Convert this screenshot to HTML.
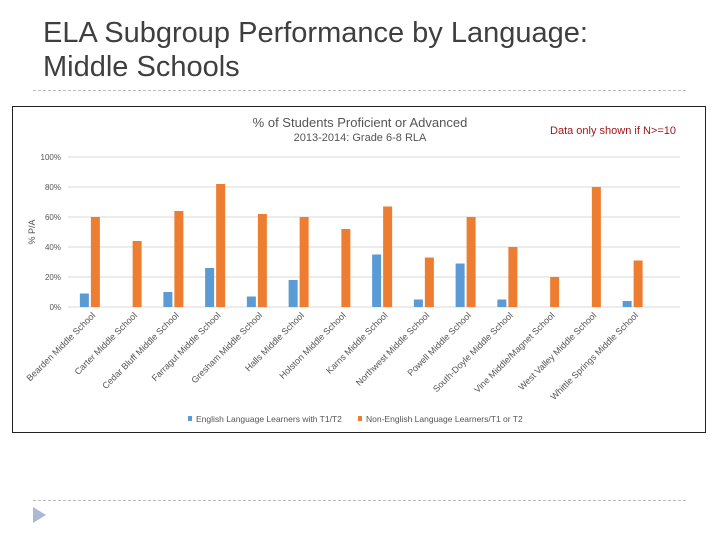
<!DOCTYPE html>
<html><head><meta charset="utf-8"><style>
body{margin:0;background:#fff;}
#root{position:relative;width:720px;height:540px;overflow:hidden;font-family:"Liberation Sans",sans-serif;}
.title{position:absolute;left:43px;top:16px;font-size:29px;line-height:34px;color:#3f3f3f;}
.dot{position:absolute;left:33px;width:653px;border-top:1px dashed #bbb;}
.box{position:absolute;left:12px;top:106px;width:694px;height:327px;border:1px solid #222;box-sizing:border-box;}
</style></head><body>
<div id="root">
<div class="title">ELA Subgroup Performance by Language:<br>Middle Schools</div>
<div class="dot" style="top:90px"></div>
<div class="dot" style="top:500px"></div>
<svg style="position:absolute;left:33px;top:507px" width="14" height="16"><polygon points="0,0 13,8 0,16" fill="#a9b9d6"/></svg>
<div class="box"></div>
<svg id="chart" style="position:absolute;left:0;top:0" width="720" height="540"></svg>
</div>
<script>
const categories=["Bearden Middle School","Carter Middle School","Cedar Bluff Middle School","Farragut Middle School","Gresham Middle School","Halls Middle School","Holston Middle School","Karns Middle School","Northwest Middle School","Powell Middle School","South-Doyle Middle School","Vine Middle/Magnet School","West Valley Middle School","Whittle Springs Middle School"];
const ellValues=[9,null,10,26,7,18,null,35,5,29,5,null,null,4];
const nonEllValues=[60,44,64,82,62,60,52,67,33,60,40,20,80,31];
const yTicks=[0,20,40,60,80,100];
const seriesNames=["English Language Learners with T1/T2","Non-English Language Learners/T1 or T2"];
const svg=document.getElementById('chart');
const NS='http://www.w3.org/2000/svg';
const X0=69,STEP=41.75,Y0=307,YH=150;
const y=v=>Y0-v/100*YH;
const xc=i=>X0+STEP*(i+0.5);
function mk(t,a,txt){const e=document.createElementNS(NS,t);for(const k in a)e.setAttribute(k,a[k]);if(txt!=null)e.textContent=txt;svg.appendChild(e);return e;}
let e;
e=mk('text',{x:360,y:127,'font-size':13,fill:'#555','text-anchor':'middle'},'% of Students Proficient or Advanced');

e=mk('text',{x:360,y:141,'font-size':11,fill:'#555','text-anchor':'middle'},'2013-2014:  Grade 6-8 RLA');

e=mk('text',{x:613,y:134,'font-size':11,fill:'#a01818','text-anchor':'middle'},'Data only shown if N>=10');

e=mk('text',{x:35,y:232,'font-size':9,fill:'#555','text-anchor':'middle',transform:'rotate(-90 35 232)'},'% P/A');

yTicks.forEach(t=>{
 e=mk('line',{x1:68,x2:680,y1:y(t),y2:y(t),stroke:'#d9d9d9','stroke-width':1});
 
 e=mk('text',{x:61,y:y(t)+3,'font-size':8,fill:'#555','text-anchor':'end'},t+'%');
 
});
const BW=9;
categories.forEach((c,i)=>{
 const cx=xc(i);
 if(ellValues[i]!=null){e=mk('rect',{x:cx-BW-1,y:y(ellValues[i]),width:BW,height:Y0-y(ellValues[i]),fill:'#5b9bd5'});
 }
 e=mk('rect',{x:cx+1,y:y(nonEllValues[i]),width:BW,height:Y0-y(nonEllValues[i]),fill:'#ed7d31'});
 
 e=mk('text',{x:cx+6,y:316,'font-size':9,fill:'#555','text-anchor':'end',transform:`rotate(-45 ${cx+6} 316)`},c);
 
});
e=mk('rect',{x:188,y:416,width:4,height:5,fill:'#5b9bd5'});

e=mk('text',{x:196,y:422,'font-size':8.5,fill:'#555'},seriesNames[0]);

e=mk('rect',{x:358,y:416,width:4,height:5,fill:'#ed7d31'});

e=mk('text',{x:366,y:422,'font-size':8.5,fill:'#555'},seriesNames[1]);

</script>
</body></html>
